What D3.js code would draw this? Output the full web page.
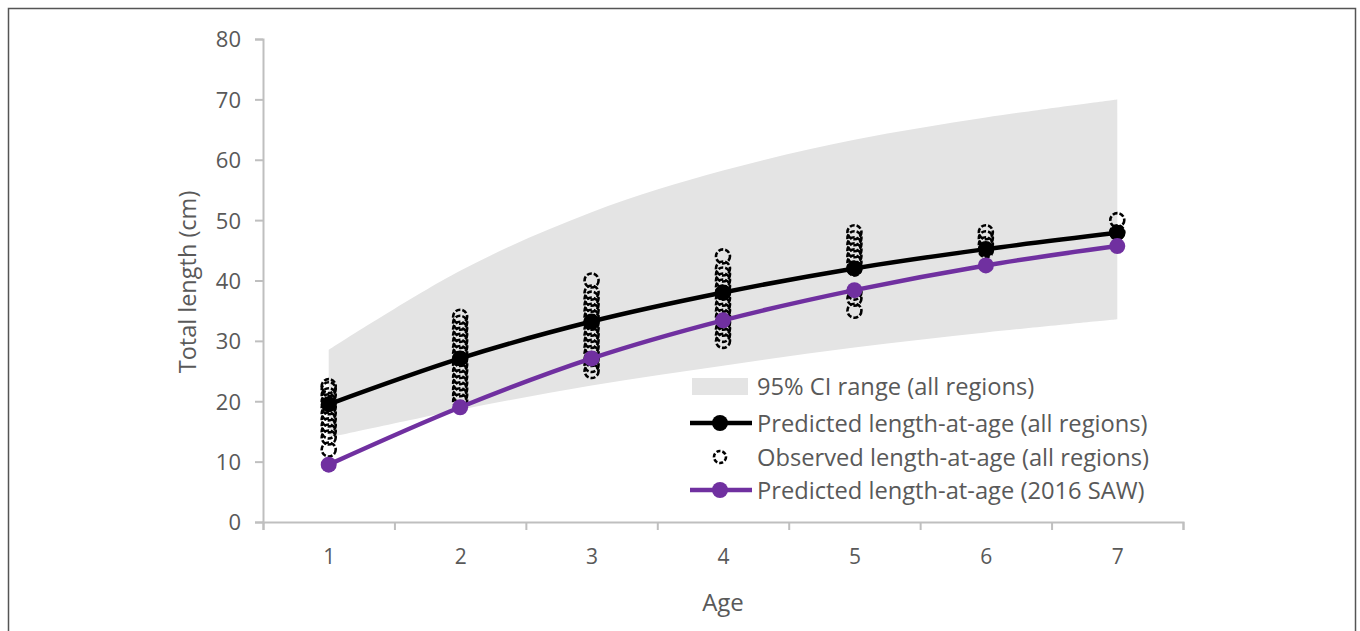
<!DOCTYPE html>
<html><head><meta charset="utf-8">
<script src="https://cdn.jsdelivr.net/npm/d3@7"></script>
<style>body{margin:0;background:#fff}svg{display:block}text{font-family:"Open Sans",sans-serif;fill:#595959}</style>
</head><body><svg id="c" width="1360" height="631"></svg>
<script>
const ages = [1,2,3,4,5,6,7];
const predictedAll = [19.5,27.1,33.2,38.0,42.0,45.2,47.9];
const predictedSAW = [9.5,19.0,27.1,33.4,38.4,42.5,45.7];
const ciUpper = [28.5,41.6,51.3,58.2,63.3,67.0,70.0];
const ciLower = [14.0,18.6,22.6,25.9,28.9,31.4,33.6];
const observed = [
  [12,14,15,16,17,18,19,20,21,22,22.5],
  [20,21,22,23,24,25,26,27,28,29,30,31,32,33,34],
  [25,26,27,28,29,30,31,32,33,34,35,36,37,38,40],
  [30,31,32,33,34,35,36,37,38,39,40,41,42,44],
  [35,37,38,42,43,44,45,46,47,48],
  [45,46,47,48],
  [48,50]
];
const yTicks = [0,10,20,30,40,50,60,70,80];
const legendLabels = ["95% CI range (all regions)","Predicted length-at-age (all regions)","Observed length-at-age (all regions)","Predicted length-at-age (2016 SAW)"];

const svg = d3.select("#c");
const purple = "#7030a0";
svg.append("rect").attr("x",8.5).attr("y",8.5).attr("width",1347).attr("height",640)
  .attr("fill","none").attr("stroke","#555").attr("stroke-width",1.5);

const x = d3.scaleLinear().domain([0.5,7.5]).range([263,1183]);
const y = d3.scaleLinear().domain([0,80]).range([522,39]);

// CI band
const area = d3.area().x((d,i)=>x(ages[i])).y0((d,i)=>y(ciLower[i])).y1(d=>y(d)).curve(d3.curveCatmullRom.alpha(0));
svg.append("path").datum(ciUpper).attr("d",area).attr("fill","#e4e4e4");

// axes
const yAxis = svg.append("g").attr("transform",`translate(${x(0.5)},0)`)
  .call(d3.axisLeft(y).tickValues(yTicks).tickSize(8).tickPadding(14));
const xAxis = svg.append("g").attr("transform",`translate(0,${y(0)})`)
  .call(d3.axisBottom(x).tickValues(d3.range(0.5,8,1)).tickSize(8).tickFormat(""));
const xLab = svg.append("g").attr("transform",`translate(0,${y(0)})`)
  .call(d3.axisBottom(x).tickValues(ages).tickSize(0).tickPadding(27).tickFormat(d3.format("d")));
xLab.select(".domain").remove();
[yAxis,xAxis].forEach(g=>{g.selectAll("path,line").attr("stroke","#bfbfbf").attr("stroke-width",2);});
yAxis.selectAll("text").attr("font-size",22).attr("dy","0.36em");
xLab.selectAll("text").attr("font-size",21);
[yAxis,xLab].forEach(g=>{g.selectAll("text").attr("fill","#595959").style("font-family","'Open Sans',sans-serif");});

svg.append("text").attr("x",723).attr("y",611).attr("text-anchor","middle").attr("font-size",24).text("Age");
svg.append("text").attr("transform","translate(196,282) rotate(-90)").attr("text-anchor","middle").attr("font-size",23.5).text("Total length (cm)");

// lines
const line = d3.line().x((d,i)=>x(ages[i])).y(d=>y(d)).curve(d3.curveCatmullRom.alpha(0));
svg.append("path").datum(predictedAll).attr("d",line).attr("fill","none").attr("stroke","#000").attr("stroke-width",4.5);

// observed
observed.forEach((vals,i)=>{
  svg.append("g").selectAll("circle").data(vals).join("circle")
    .attr("cx",x(ages[i])).attr("cy",d=>y(d)).attr("r",7)
    .attr("fill","none").attr("stroke","#000").attr("stroke-width",2.6).attr("stroke-dasharray","5,2");
});
svg.append("g").selectAll("circle").data(predictedAll).join("circle")
  .attr("cx",(d,i)=>x(ages[i])).attr("cy",d=>y(d)).attr("r",8).attr("fill","#000");

svg.append("path").datum(predictedSAW).attr("d",line).attr("fill","none").attr("stroke",purple).attr("stroke-width",4.5);
svg.append("g").selectAll("circle").data(predictedSAW).join("circle")
  .attr("cx",(d,i)=>x(ages[i])).attr("cy",d=>y(d)).attr("r",8).attr("fill",purple);

// legend
const lg = svg.append("g");
const rowsY = [386,423,457,490];
lg.append("rect").attr("x",692).attr("y",378).attr("width",56).attr("height",17).attr("fill","#e4e4e4");
lg.append("line").attr("x1",690).attr("x2",752).attr("y1",rowsY[1]).attr("y2",rowsY[1]).attr("stroke","#000").attr("stroke-width",4.5);
lg.append("circle").attr("cx",720).attr("cy",rowsY[1]).attr("r",8).attr("fill","#000");
lg.append("circle").attr("cx",720).attr("cy",rowsY[2]).attr("r",6).attr("fill","none").attr("stroke","#000").attr("stroke-width",2.6).attr("stroke-dasharray","4,2");
lg.append("line").attr("x1",690).attr("x2",752).attr("y1",rowsY[3]).attr("y2",rowsY[3]).attr("stroke",purple).attr("stroke-width",4.5);
lg.append("circle").attr("cx",720).attr("cy",rowsY[3]).attr("r",8).attr("fill",purple);
lg.selectAll("text").data(legendLabels).join("text")
  .attr("x",757).attr("y",(d,i)=>rowsY[i]).attr("dy","0.36em").attr("font-size",23.7).text(d=>d);
</script></body></html>
